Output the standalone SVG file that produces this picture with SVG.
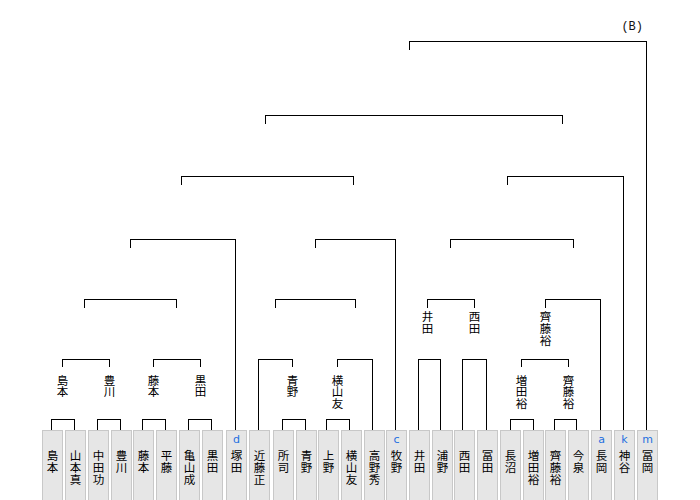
<svg xmlns="http://www.w3.org/2000/svg" width="700" height="500" viewBox="0 0 700 500">
<style>
.bg{fill:#ffffff}
.box{fill:#e6e6e6;stroke:#c8c8c8;stroke-width:1}
.nm{font-family:"Noto Sans CJK JP","Noto Sans CJK SC",sans-serif;font-size:11.5px;fill:#000;writing-mode:vertical-rl}
.lt{font-family:"DejaVu Sans","Liberation Sans",sans-serif;font-size:11px;fill:#1e6fe0;text-anchor:middle}
.ln{fill:none;stroke:#000;stroke-width:1;shape-rendering:crispEdges}
.hd{font-family:"Liberation Mono",monospace;font-size:12px;fill:#111;text-anchor:end}
</style>
<rect class="bg" x="0" y="0" width="700" height="500"/>
<text class="hd" x="643" y="30">(B)</text>
<g id="connectors">
<path class="ln" d="M409.5 50 V41.5 H646.5 V430"/>
<path class="ln" d="M265.5 124 V115.5 H562.5 V124"/>
<path class="ln" d="M181.5 185 V176.5 H353.5 V185"/>
<path class="ln" d="M507.5 185 V176.5 H623.5 V430"/>
<path class="ln" d="M130.5 248 V239.5 H235.5 V430"/>
<path class="ln" d="M315.5 248 V239.5 H395.5 V430"/>
<path class="ln" d="M450.5 248 V239.5 H573.5 V248"/>
<path class="ln" d="M84.5 308 V299.5 H176.5 V308"/>
<path class="ln" d="M275.5 308 V299.5 H355.5 V308"/>
<path class="ln" d="M427.5 308 V299.5 H474.5 V308"/>
<path class="ln" d="M545.5 308 V299.5 H600.5 V430"/>
<path class="ln" d="M62.5 367 V359.5 H109.5 V367"/>
<path class="ln" d="M153.5 367 V359.5 H200.5 V367"/>
<path class="ln" d="M258.5 430 V359.5 H292.5 V367"/>
<path class="ln" d="M337.5 367 V359.5 H372.5 V430"/>
<path class="ln" d="M418.5 430 V359.5 H440.5 V430"/>
<path class="ln" d="M462.5 430 V359.5 H486.5 V430"/>
<path class="ln" d="M521.5 367 V359.5 H568.5 V367"/>
<path class="ln" d="M51.5 430 V419.5 H74.5 V430"/>
<path class="ln" d="M97.5 430 V419.5 H120.5 V430"/>
<path class="ln" d="M142.5 430 V419.5 H165.5 V430"/>
<path class="ln" d="M188.5 430 V419.5 H211.5 V430"/>
<path class="ln" d="M282.5 430 V419.5 H305.5 V430"/>
<path class="ln" d="M326.5 430 V419.5 H349.5 V430"/>
<path class="ln" d="M510.5 430 V419.5 H533.5 V430"/>
<path class="ln" d="M554.5 430 V419.5 H576.5 V430"/>
</g>
<g id="winners">
<g id="w-shimamoto"><text class="nm" x="62.5" y="374.5">島</text><text class="nm" x="62.5" y="386.2">本</text></g>
<g id="w-toyokawa"><text class="nm" x="109.5" y="374.5">豊</text><text class="nm" x="109.5" y="386.2">川</text></g>
<g id="w-fujimoto"><text class="nm" x="153.5" y="374.5">藤</text><text class="nm" x="153.5" y="386.2">本</text></g>
<g id="w-kuroda"><text class="nm" x="200.5" y="374.5">黒</text><text class="nm" x="200.5" y="386.2">田</text></g>
<g id="w-aono"><text class="nm" x="292.5" y="374.5">青</text><text class="nm" x="292.5" y="386.2">野</text></g>
<g id="w-yokoyama"><text class="nm" x="337.5" y="374.5">横</text><text class="nm" x="337.5" y="386.2">山</text><text class="nm" x="337.5" y="397.9">友</text></g>
<g id="w-masuda"><text class="nm" x="521.5" y="374.5">増</text><text class="nm" x="521.5" y="386.2">田</text><text class="nm" x="521.5" y="397.9">裕</text></g>
<g id="w-saito1"><text class="nm" x="568.5" y="374.5">齊</text><text class="nm" x="568.5" y="386.2">藤</text><text class="nm" x="568.5" y="397.9">裕</text></g>
<g id="w-ida"><text class="nm" x="427.5" y="311">井</text><text class="nm" x="427.5" y="322.7">田</text></g>
<g id="w-nishida"><text class="nm" x="474.5" y="311">西</text><text class="nm" x="474.5" y="322.7">田</text></g>
<g id="w-saito2"><text class="nm" x="545.5" y="311">齊</text><text class="nm" x="545.5" y="322.7">藤</text><text class="nm" x="545.5" y="334.4">裕</text></g>
</g>
<g id="players">
<g id="p0"><rect class="box" x="42.5" y="430.5" width="20" height="80"/><text class="nm" x="52.5" y="450">島</text><text class="nm" x="52.5" y="461.7">本</text></g>
<g id="p1"><rect class="box" x="65.5" y="430.5" width="20" height="80"/><text class="nm" x="75.5" y="450">山</text><text class="nm" x="75.5" y="461.7">本</text><text class="nm" x="75.5" y="473.4">真</text></g>
<g id="p2"><rect class="box" x="88.5" y="430.5" width="20" height="80"/><text class="nm" x="98.5" y="450">中</text><text class="nm" x="98.5" y="461.7">田</text><text class="nm" x="98.5" y="473.4">功</text></g>
<g id="p3"><rect class="box" x="111.5" y="430.5" width="20" height="80"/><text class="nm" x="121.5" y="450">豊</text><text class="nm" x="121.5" y="461.7">川</text></g>
<g id="p4"><rect class="box" x="133.5" y="430.5" width="20" height="80"/><text class="nm" x="143.5" y="450">藤</text><text class="nm" x="143.5" y="461.7">本</text></g>
<g id="p5"><rect class="box" x="156.5" y="430.5" width="20" height="80"/><text class="nm" x="166.5" y="450">平</text><text class="nm" x="166.5" y="461.7">藤</text></g>
<g id="p6"><rect class="box" x="179.5" y="430.5" width="20" height="80"/><text class="nm" x="189.5" y="450">亀</text><text class="nm" x="189.5" y="461.7">山</text><text class="nm" x="189.5" y="473.4">成</text></g>
<g id="p7"><rect class="box" x="202.5" y="430.5" width="20" height="80"/><text class="nm" x="212.5" y="450">黒</text><text class="nm" x="212.5" y="461.7">田</text></g>
<g id="p8"><rect class="box" x="226.5" y="430.5" width="20" height="80"/><text class="lt" x="236.5" y="443">d</text><text class="nm" x="236.5" y="450">塚</text><text class="nm" x="236.5" y="461.7">田</text></g>
<g id="p9"><rect class="box" x="249.5" y="430.5" width="20" height="80"/><text class="nm" x="259.5" y="450">近</text><text class="nm" x="259.5" y="461.7">藤</text><text class="nm" x="259.5" y="473.4">正</text></g>
<g id="p10"><rect class="box" x="273.5" y="430.5" width="20" height="80"/><text class="nm" x="283.5" y="450">所</text><text class="nm" x="283.5" y="461.7">司</text></g>
<g id="p11"><rect class="box" x="296.5" y="430.5" width="20" height="80"/><text class="nm" x="306.5" y="450">青</text><text class="nm" x="306.5" y="461.7">野</text></g>
<g id="p12"><rect class="box" x="318.5" y="430.5" width="20" height="80"/><text class="nm" x="328.5" y="450">上</text><text class="nm" x="328.5" y="461.7">野</text></g>
<g id="p13"><rect class="box" x="341.5" y="430.5" width="20" height="80"/><text class="nm" x="351.5" y="450">横</text><text class="nm" x="351.5" y="461.7">山</text><text class="nm" x="351.5" y="473.4">友</text></g>
<g id="p14"><rect class="box" x="364.5" y="430.5" width="20" height="80"/><text class="nm" x="374.5" y="450">高</text><text class="nm" x="374.5" y="461.7">野</text><text class="nm" x="374.5" y="473.4">秀</text></g>
<g id="p15"><rect class="box" x="386.5" y="430.5" width="20" height="80"/><text class="lt" x="396.5" y="443">c</text><text class="nm" x="396.5" y="450">牧</text><text class="nm" x="396.5" y="461.7">野</text></g>
<g id="p16"><rect class="box" x="409.5" y="430.5" width="20" height="80"/><text class="nm" x="419.5" y="450">井</text><text class="nm" x="419.5" y="461.7">田</text></g>
<g id="p17"><rect class="box" x="432.5" y="430.5" width="20" height="80"/><text class="nm" x="442.5" y="450">浦</text><text class="nm" x="442.5" y="461.7">野</text></g>
<g id="p18"><rect class="box" x="454.5" y="430.5" width="20" height="80"/><text class="nm" x="464.5" y="450">西</text><text class="nm" x="464.5" y="461.7">田</text></g>
<g id="p19"><rect class="box" x="477.5" y="430.5" width="20" height="80"/><text class="nm" x="487.5" y="450">冨</text><text class="nm" x="487.5" y="461.7">田</text></g>
<g id="p20"><rect class="box" x="500.5" y="430.5" width="20" height="80"/><text class="nm" x="510.5" y="450">長</text><text class="nm" x="510.5" y="461.7">沼</text></g>
<g id="p21"><rect class="box" x="523.5" y="430.5" width="20" height="80"/><text class="nm" x="533.5" y="450">増</text><text class="nm" x="533.5" y="461.7">田</text><text class="nm" x="533.5" y="473.4">裕</text></g>
<g id="p22"><rect class="box" x="545.5" y="430.5" width="20" height="80"/><text class="nm" x="555.5" y="450">齊</text><text class="nm" x="555.5" y="461.7">藤</text><text class="nm" x="555.5" y="473.4">裕</text></g>
<g id="p23"><rect class="box" x="568.5" y="430.5" width="20" height="80"/><text class="nm" x="578.5" y="450">今</text><text class="nm" x="578.5" y="461.7">泉</text></g>
<g id="p24"><rect class="box" x="591.5" y="430.5" width="20" height="80"/><text class="lt" x="601.5" y="443">a</text><text class="nm" x="601.5" y="450">長</text><text class="nm" x="601.5" y="461.7">岡</text></g>
<g id="p25"><rect class="box" x="614.5" y="430.5" width="20" height="80"/><text class="lt" x="624.5" y="443">k</text><text class="nm" x="624.5" y="450">神</text><text class="nm" x="624.5" y="461.7">谷</text></g>
<g id="p26"><rect class="box" x="637.5" y="430.5" width="20" height="80"/><text class="lt" x="647.5" y="443">m</text><text class="nm" x="647.5" y="450">冨</text><text class="nm" x="647.5" y="461.7">岡</text></g>
</g>
</svg>
